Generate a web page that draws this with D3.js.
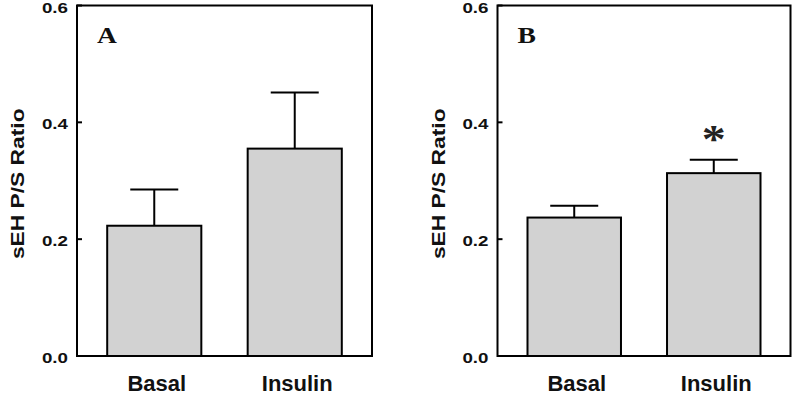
<!DOCTYPE html>
<html>
<head>
<meta charset="utf-8">
<script src="https://cdn.jsdelivr.net/npm/d3@7"></script>
<style>
  html, body { margin: 0; padding: 0; background: #fff; }
  svg { display: block; }
</style>
</head>
<body>
<svg id="chart" width="800" height="400"></svg>
<script>
// ---- data ----
const categories = ["Basal", "Insulin"];
const panelLabels = ["A", "B"];
const meansA = [0.223, 0.355];
const errorsA = [0.062, 0.096];
const meansB = [0.237, 0.313];
const errorsB = [0.020, 0.023];
const marksA = ["", ""];
const marksB = ["", "*"];
const yTicks = [0.0, 0.2, 0.4, 0.6];
const yTickLabels = ["0.0", "0.2", "0.4", "0.6"];
const yLabel = "sEH P/S Ratio";

(function () {
const svg = d3.select("#chart");
const sans = "'Liberation Sans', Arial, Helvetica, sans-serif";
const serif = "'Liberation Serif', 'Times New Roman', serif";

const panels = [
  { label: panelLabels[0], means: meansA, errs: errorsA, marks: marksA, x0: 77, x1: 372, ylabX: 24 },
  { label: panelLabels[1], means: meansB, errs: errorsB, marks: marksB, x0: 497.5, x1: 790.5, ylabX: 445 }
];
const plotTop = 5.5, plotBottom = 356;

const y = d3.scaleLinear().domain([0, 0.6]).range([plotBottom, plotTop]);

panels.forEach(p => {
  const g = svg.append("g");
  const x = d3.scaleBand().domain(categories).range([p.x0, p.x1])
    .paddingInner(0.33).paddingOuter(0.215);

  // bars
  g.selectAll("rect.bar").data(categories).enter().append("rect")
    .attr("x", d => x(d))
    .attr("y", (d, i) => y(p.means[i]))
    .attr("width", x.bandwidth())
    .attr("height", (d, i) => y(0) - y(p.means[i]))
    .attr("fill", "#d2d2d2")
    .attr("stroke", "#000")
    .attr("stroke-width", 2);

  // error bars (upper only)
  const cap = 24;
  categories.forEach((c, i) => {
    const cx = x(c) + x.bandwidth() / 2;
    const yt = y(p.means[i] + p.errs[i]);
    g.append("line").attr("x1", cx).attr("x2", cx)
      .attr("y1", y(p.means[i])).attr("y2", yt)
      .attr("stroke", "#000").attr("stroke-width", 2);
    g.append("line").attr("x1", cx - cap).attr("x2", cx + cap)
      .attr("y1", yt).attr("y2", yt)
      .attr("stroke", "#000").attr("stroke-width", 2);
    if (p.marks[i]) {
      g.append("text")
        .attr("transform", `translate(${cx},${yt - 8}) scale(1.2,1)`)
        .attr("text-anchor", "middle")
        .attr("font-family", serif)
        .attr("font-weight", "bold")
        .attr("font-size", 40)
        .attr("fill", "#222")
        .text(p.marks[i]);
    }
  });

  // frame
  g.append("rect")
    .attr("x", p.x0).attr("y", plotTop)
    .attr("width", p.x1 - p.x0).attr("height", plotBottom - plotTop)
    .attr("fill", "none").attr("stroke", "#000").attr("stroke-width", 2);

  // y ticks (inward) and labels
  yTicks.forEach((t, i) => {
    g.append("line").attr("x1", p.x0).attr("x2", p.x0 + 5)
      .attr("y1", y(t)).attr("y2", y(t))
      .attr("stroke", "#000").attr("stroke-width", 2);
    g.append("text")
      .attr("transform", `translate(${p.x0 - 9},${y(t) + 7}) scale(1.25,1)`)
      .attr("text-anchor", "end")
      .attr("font-family", sans).attr("font-weight", "bold")
      .attr("font-size", 15)
      .attr("fill", "#111")
      .text(yTickLabels[i]);
  });

  // x labels
  categories.forEach(c => {
    g.append("text")
      .attr("x", x(c) + x.bandwidth() / 2 + 2.5)
      .attr("y", 391)
      .attr("text-anchor", "middle")
      .attr("font-family", sans).attr("font-weight", "bold")
      .attr("font-size", 22)
      .attr("fill", "#111")
      .text(c);
  });

  // y axis label
  g.append("text")
    .attr("transform", `translate(${p.ylabX},${(plotTop + plotBottom) / 2 + 3}) rotate(-90) scale(1.2,1)`)
    .attr("text-anchor", "middle")
    .attr("font-family", sans).attr("font-weight", "bold")
    .attr("font-size", 19)
    .attr("fill", "#111")
    .text(yLabel);

  // panel letter
  g.append("text")
    .attr("transform", `translate(${p.x0 + 20},43) scale(1.15,1)`)
    .attr("font-family", serif).attr("font-weight", "bold")
    .attr("font-size", 24)
    .attr("fill", "#111")
    .text(p.label);
});
})();
</script>
</body>
</html>
